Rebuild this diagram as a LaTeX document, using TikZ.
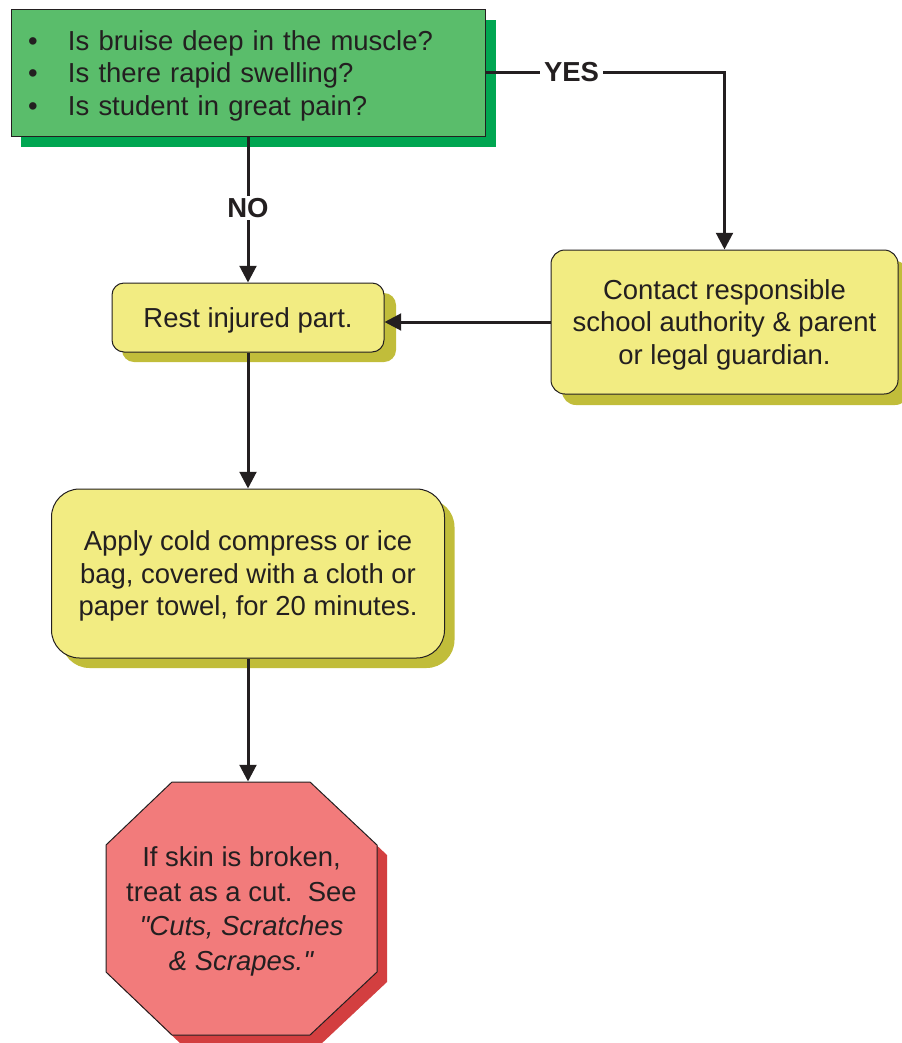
\documentclass[tikz,border=0pt]{standalone}
\usepackage{fontspec}
\setmainfont{Liberation Sans}
\usetikzlibrary{arrows.meta}

\definecolor{txtgray}{HTML}{231F20}
\definecolor{qgreen}{HTML}{5ABD6B}
\definecolor{qshadow}{HTML}{00A651}
\definecolor{stepyellow}{HTML}{F2EC82}
\definecolor{stepshadow}{HTML}{C1BD3A}
\definecolor{stopred}{HTML}{F27B7B}
\definecolor{stopshadow}{HTML}{D33F40}

\tikzset{every picture/.style={line width=0.75pt}}
\tikzset{
  boxtext/.style={text=txtgray, font=\fontsize{20.6}{24.4}\selectfont, inner sep=0pt, text depth=0pt, align=center},
  stepbox/.style={boxtext, draw=txtgray, fill=stepyellow},
  flow/.style={draw=txtgray, line width=2.25pt, -{Triangle[length=12.5pt,width=12.5pt]}},
  lbl/.style={fill=white, text=txtgray, font=\fontsize{20.6}{24.4}\selectfont\bfseries, inner xsep=3pt, inner ysep=2pt},
}

\begin{document}
\begin{tikzpicture}[x=0.75pt,y=0.75pt,yscale=-1,xscale=1]
	\useasboundingbox (0,0) rectangle (902,1043);

	%Shape: Rectangle shadows
	\fill [qshadow] (21,20) rectangle (496,147);
	\fill [stepshadow, rounded corners=9pt] (122,293) rectangle (396,362);
	\fill [stepshadow, rounded corners=10.5pt] (562,261) rectangle (909,405);
	\fill [stepshadow, rounded corners=21pt] (61.5,499) rectangle (454.5,668);
	%Shape: Octagon shadow
	\fill [stopshadow] (182,792) -- (320,792) -- (387,855) -- (387,982) -- (320,1045) -- (182,1045) -- (116,982) -- (116,855) -- cycle ;
	%Shape: Octagon
	\draw [draw=txtgray, fill=stopred] (172,782) -- (310,782) -- (377,845) -- (377,972) -- (310,1035) -- (172,1035) -- (106,972) -- (106,845) -- cycle ;

	% Question box
	\node [boxtext, text depth=, draw=txtgray, fill=qgreen, text width=330pt, inner xsep=12.75pt, minimum height=95.25pt, align=left] (q) at (248,72.5)
		{\rule{0pt}{19.5pt}\makebox[30pt][l]{\textbullet}Is bruise deep in the muscle?\\
		 \makebox[30pt][l]{\textbullet}Is there rapid swelling?\\
		 \makebox[30pt][l]{\textbullet}Is student in great pain?};
	% Step boxes
	\node [stepbox, rounded corners=9pt, minimum width=204pt, minimum height=51.75pt] (rest) at (248,317.5) {Rest injured part.};
	\node [stepbox, rounded corners=10.5pt, minimum width=260.25pt, minimum height=108pt] (contact) at (724.5,322)
		{Contact responsible\\school authority \& parent\\or legal guardian.};
	\node [stepbox, rounded corners=21pt, minimum width=294.75pt, minimum height=126.75pt] (apply) at (248,573.5)
		{Apply cold compress or ice\\bag, covered with a cloth or\\paper towel, for 20 minutes.};
	% Text Node
	\node [boxtext, font=\fontsize{20.6}{26}\selectfont, minimum width=203.25pt, minimum height=189.75pt] (stop) at (241.5,908.5)
		{If skin is broken,\\treat as a cut.\ \ See\\\textit{\textquotedbl Cuts, Scratches}\ \\\textit{\& Scrapes.\textquotedbl}};

	%Straight Lines
	\draw [flow] (q) -- (rest) node [lbl, pos=0.49] (no) {NO};
	\draw [flow] (q.east) -| (contact.north) node [lbl, pos=0.18] (yes) {YES};
	\draw [flow] (contact.west) -- (contact.west -| rest.east);
	\draw [flow] (rest) -- (apply);
	\draw [flow] (apply.south) -- (apply.south |- stop.north);

\end{tikzpicture}
\end{document}
